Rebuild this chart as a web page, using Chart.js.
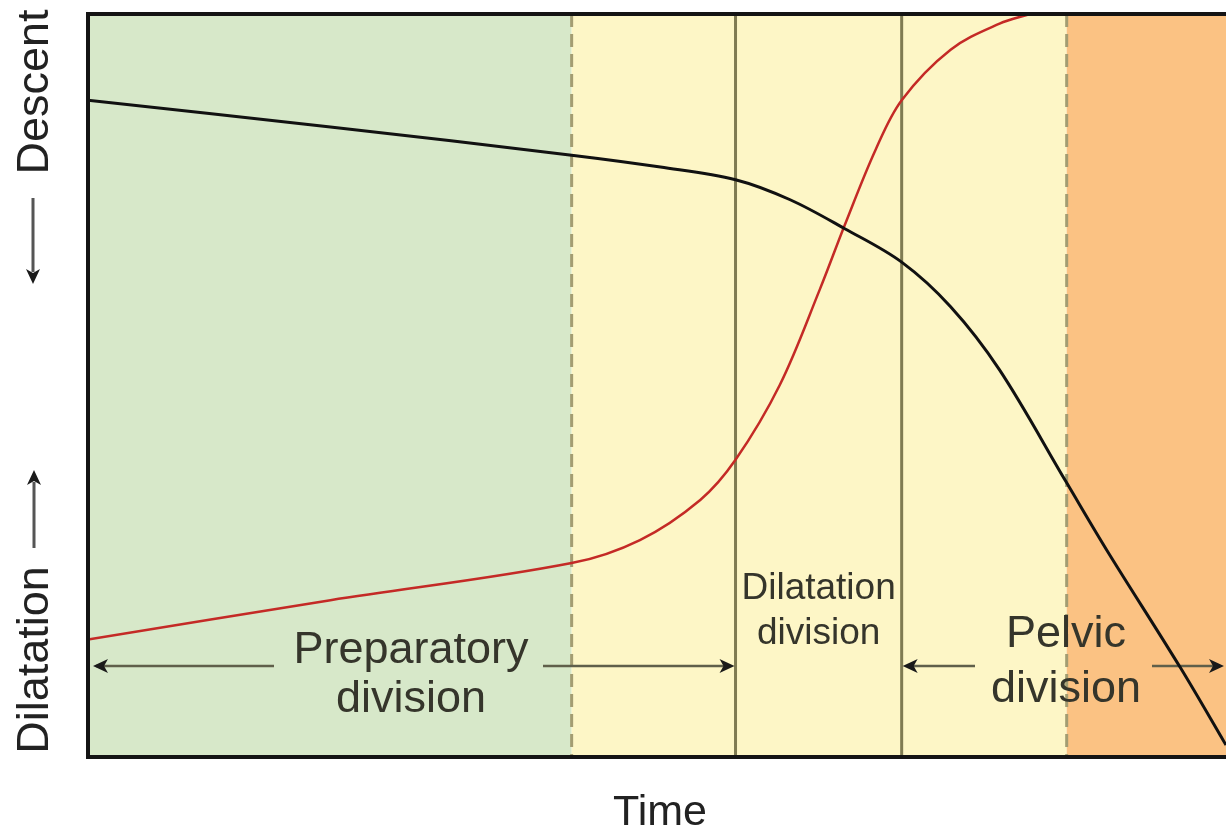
<!DOCTYPE html>
<html>
<head>
<meta charset="utf-8">
<title>Labour curve</title>
<script src="https://cdn.jsdelivr.net/npm/chart.js@4.4.1/dist/chart.umd.min.js"></script>
<style>
  body { margin: 0; background: #fff; }
  #wrap { width: 1226px; height: 831px; }
</style>
</head>
<body>
<div id="wrap"><canvas id="labour-chart" width="1226" height="831"></canvas></div>
<script>
// time runs 0..100 across the plot, both curves 0..100 up the plot
const descentTime = [0, 21.3, 42.5, 50.3, 56.9, 61.7, 66.5, 71.5, 75.8, 80.1, 86.0, 89.5, 96.0, 100];
const descent = [88.4, 84.8, 81.0, 79.4, 77.7, 75.0, 71.1, 66.6, 60.6, 52.1, 36.9, 27.9, 12.0, 1.6];

const dilatationTime = [0, 21.3, 42.5, 48.5, 53.8, 56.9, 60.8, 64.3, 66.5, 69.2, 71.5, 75.8, 80.1, 82.8];
const dilatation = [15.8, 21.1, 26.1, 29.2, 34.6, 40.0, 50.1, 62.9, 71.6, 81.7, 88.4, 95.2, 98.7, 100];

// phase boundaries on the time axis
const phaseEdges = [0, 42.5, 56.9, 71.5, 86.0, 100];
const phaseColors = ['#d7e8c9', '#fdf6c6', '#fdf6c6', '#fdf6c6', '#fbc283'];
const dashedEdges = [42.5, 86.0];
const solidEdges = [56.9, 71.5];

const divisionLabels = [
  { lines: ['Preparatory', 'division'], from: 0, to: 56.9 },
  { lines: ['Dilatation', 'division'], from: 56.9, to: 71.5 },
  { lines: ['Pelvic', 'division'], from: 71.5, to: 100 }
];

const FONT = '"Liberation Sans", Arial, Helvetica, sans-serif';

function toPoints(xs, ys) {
  return xs.map((x, i) => ({ x, y: ys[i] }));
}

function arrowHead(ctx, x, y, dir) {
  // dir: 'left' | 'right' | 'up' | 'down'
  ctx.save();
  ctx.translate(x, y);
  const rot = { right: 0, down: Math.PI / 2, left: Math.PI, up: -Math.PI / 2 }[dir];
  ctx.rotate(rot);
  ctx.beginPath();
  ctx.moveTo(0, 0);
  ctx.lineTo(-15, -7);
  ctx.lineTo(-11, 0);
  ctx.lineTo(-15, 7);
  ctx.closePath();
  ctx.fillStyle = '#1a1a1a';
  ctx.fill();
  ctx.restore();
}

function hLine(ctx, x1, x2, y) {
  ctx.beginPath();
  ctx.moveTo(x1, y);
  ctx.lineTo(x2, y);
  ctx.stroke();
}

const phasePlugin = {
  id: 'phases',
  beforeDatasetsDraw(chart) {
    const { ctx, chartArea: area, scales: { x } } = chart;
    ctx.save();

    // coloured phase bands
    for (let i = 0; i < phaseColors.length; i++) {
      const x1 = x.getPixelForValue(phaseEdges[i]);
      const x2 = x.getPixelForValue(phaseEdges[i + 1]);
      ctx.fillStyle = phaseColors[i];
      ctx.fillRect(x1, area.top, x2 - x1, area.bottom - area.top);
    }

    // dashed and solid dividers
    ctx.lineWidth = 3;
    ctx.strokeStyle = '#a39d72';
    ctx.setLineDash([13, 7]);
    dashedEdges.forEach((v) => {
      const px = x.getPixelForValue(v);
      ctx.beginPath();
      ctx.moveTo(px, area.top);
      ctx.lineTo(px, area.bottom);
      ctx.stroke();
    });
    ctx.setLineDash([]);
    ctx.strokeStyle = '#7f7b52';
    solidEdges.forEach((v) => {
      const px = x.getPixelForValue(v);
      ctx.beginPath();
      ctx.moveTo(px, area.top);
      ctx.lineTo(px, area.bottom);
      ctx.stroke();
    });

    // division labels
    ctx.fillStyle = '#35352b';
    ctx.textAlign = 'center';
    ctx.textBaseline = 'alphabetic';
    const prep = divisionLabels[0];
    const prepCx = 411;
    ctx.font = `45px ${FONT}`;
    ctx.fillText(prep.lines[0], prepCx, area.bottom - 94);
    ctx.fillText(prep.lines[1], prepCx, area.bottom - 45);

    const dil = divisionLabels[1];
    const dilCx = (x.getPixelForValue(dil.from) + x.getPixelForValue(dil.to)) / 2;
    ctx.font = `37px ${FONT}`;
    ctx.fillText(dil.lines[0], dilCx, area.bottom - 158);
    ctx.fillText(dil.lines[1], dilCx, area.bottom - 113);

    const pel = divisionLabels[2];
    const pelCx = 1066;
    ctx.font = `45px ${FONT}`;
    ctx.fillText(pel.lines[0], pelCx, area.bottom - 110);
    ctx.fillText(pel.lines[1], pelCx, area.bottom - 55);

    // span arrows
    const ay = area.bottom - 91;
    ctx.strokeStyle = '#5f5f4a';
    ctx.lineWidth = 2.5;
    const prepL = x.getPixelForValue(prep.from);
    const prepR = x.getPixelForValue(prep.to);
    hLine(ctx, prepL + 8, 274, ay);
    hLine(ctx, 543, prepR - 8, ay);
    arrowHead(ctx, prepL + 5, ay, 'left');
    arrowHead(ctx, prepR - 1, ay, 'right');

    const pelL = x.getPixelForValue(pel.from);
    const pelR = x.getPixelForValue(pel.to);
    hLine(ctx, pelL + 8, 975, ay);
    hLine(ctx, 1152, pelR - 8, ay);
    arrowHead(ctx, pelL + 1, ay, 'left');
    arrowHead(ctx, pelR - 2, ay, 'right');

    ctx.restore();
  },
  afterDatasetsDraw(chart) {
    const { ctx, chartArea: area } = chart;
    ctx.save();

    // frame (right side runs off the picture)
    ctx.strokeStyle = '#141414';
    ctx.lineWidth = 4;
    ctx.beginPath();
    ctx.moveTo(area.right + 2, area.top);
    ctx.lineTo(area.left, area.top);
    ctx.lineTo(area.left, area.bottom);
    ctx.lineTo(area.right + 2, area.bottom);
    ctx.stroke();

    // axis titles
    ctx.fillStyle = '#222';
    ctx.font = `43px ${FONT}`;
    ctx.textAlign = 'center';
    ctx.textBaseline = 'alphabetic';
    ctx.fillText('Time', 660, 825);

    ctx.save();
    ctx.translate(48, 0);
    ctx.rotate(-Math.PI / 2);
    ctx.font = `45px ${FONT}`;
    ctx.textAlign = 'center';
    ctx.fillText('Descent', -92, 0);
    ctx.fillText('Dilatation', -660, 0);
    ctx.restore();

    ctx.strokeStyle = '#555';
    ctx.lineWidth = 3;
    ctx.beginPath();
    ctx.moveTo(33, 198);
    ctx.lineTo(33, 272);
    ctx.moveTo(34, 548);
    ctx.lineTo(34, 482);
    ctx.stroke();
    arrowHead(ctx, 33, 284, 'down');
    arrowHead(ctx, 34, 470, 'up');

    ctx.restore();
  }
};

new Chart(document.getElementById('labour-chart'), {
  type: 'line',
  data: {
    datasets: [
      {
        label: 'Descent',
        data: toPoints(descentTime, descent),
        borderColor: '#111',
        borderWidth: 3,
        pointRadius: 0,
        tension: 0.35,
        fill: false
      },
      {
        label: 'Dilatation',
        data: toPoints(dilatationTime, dilatation),
        borderColor: '#c42a26',
        borderWidth: 2.5,
        pointRadius: 0,
        tension: 0.35,
        fill: false
      }
    ]
  },
  options: {
    responsive: false,
    devicePixelRatio: 1,
    animation: false,
    layout: {
      padding: { left: 88, right: 0, top: 14, bottom: 74 }
    },
    plugins: {
      legend: { display: false },
      tooltip: { enabled: false }
    },
    scales: {
      x: { type: 'linear', min: 0, max: 100, display: false },
      y: { type: 'linear', min: 0, max: 100, display: false }
    }
  },
  plugins: [phasePlugin]
});
</script>
</body>
</html>
